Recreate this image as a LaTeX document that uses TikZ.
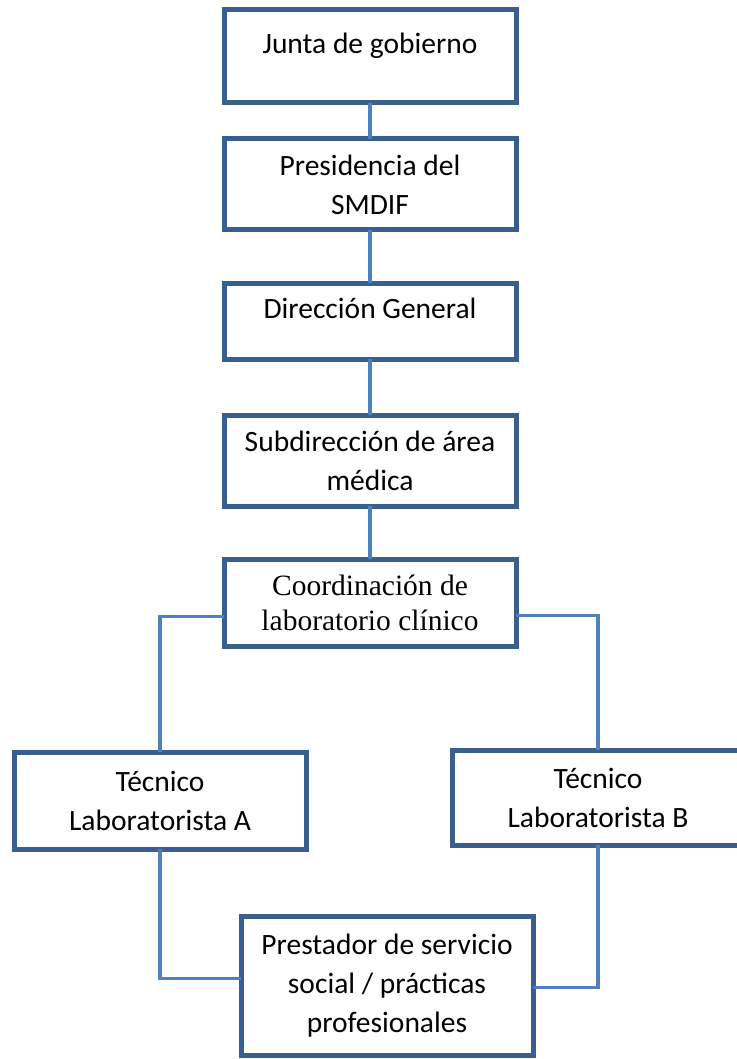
\documentclass[tikz,border=0pt]{standalone}
\usepackage{fontspec}
\setmainfont{Carlito}
\newfontfamily\timesfont{Liberation Serif}
\usetikzlibrary{positioning}
\definecolor{boxblue}{HTML}{3A5F8F}
\definecolor{lineblue}{HTML}{4F81BD}

\begin{document}
\begin{tikzpicture}[
    x=1pt, y=-1pt,
    node distance=36pt,
    orgbox/.style={rectangle, draw=boxblue, line width=5pt, fill=white, minimum width=292pt, align=center, inner sep=0pt, outer sep=0pt, font=\fontsize{29.5}{39}\selectfont},
    oneline/.style={text height=21pt, text depth=27pt},
    link/.style={draw=lineblue, line width=3.5pt}
]
\useasboundingbox (0,0) rectangle (736,1059);

% Chain of command (vertical stack)
\node[orgbox, oneline, minimum height=93pt] (junta) at (370,56.5) {Junta de gobierno};
\node[orgbox, minimum height=91pt, below=36pt of junta] (presid) {Presidencia del\\SMDIF};
\node[orgbox, oneline, minimum height=76pt, below=53pt of presid] (direc) {Dirección General};
\node[orgbox, minimum height=91pt, below=56pt of direc] (subdir) {Subdirección de área\\médica};
\node[orgbox, minimum height=87pt, below=53pt of subdir, font=\timesfont\fontsize{29.5}{35}\selectfont] (coord) {Coordinación de\\laboratorio clínico};

% Lab staff
\node[orgbox, minimum height=97pt] (tecA) at (160,800.5) {Técnico\\Laboratorista A};
\node[orgbox, minimum height=95pt] (tecB) at (598,797.5) {Técnico\\Laboratorista B};
\node[orgbox, minimum height=139pt] (prest) at (387,985.5) {Prestador de servicio\\social / prácticas\\profesionales};

% Connectors
\draw[link] (junta) -- (presid);
\draw[link] (presid) -- (direc);
\draw[link] (direc) -- (subdir);
\draw[link] (subdir) -- (coord);
\draw[link] ([yshift=-14pt]coord.west) -| (tecA.north);
\draw[link] ([yshift=-13pt]coord.east) -| (tecB.north);
\draw[link] (tecA.south) |- ([yshift=7pt]prest.west);
\draw[link] (tecB.south) |- ([yshift=-2pt]prest.east);

\end{tikzpicture}
\end{document}
